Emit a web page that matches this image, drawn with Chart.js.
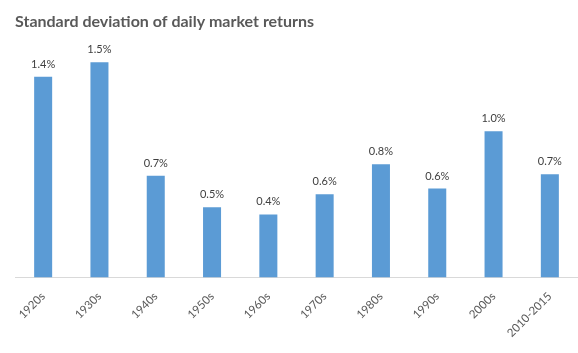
<!DOCTYPE html>
<html>
<head>
<meta charset="utf-8">
<script src="https://cdn.jsdelivr.net/npm/chart.js@4/dist/chart.umd.min.js"></script>
<style>
  html, body { margin: 0; padding: 0; background: #ffffff; }
  #wrap { width: 578px; height: 353px; }
</style>
</head>
<body>
<div id="wrap"><canvas id="c" width="578" height="353"></canvas></div>
<script>
const categories = ["1920s", "1930s", "1940s", "1950s", "1960s", "1970s", "1980s", "1990s", "2000s", "2010-2015"];
const stdDevValues = [1.40, 1.50, 0.71, 0.49, 0.44, 0.58, 0.79, 0.62, 1.02, 0.72];
const titleText = "Standard deviation of daily market returns";

const barLabels = {
  id: 'barLabels',
  afterDatasetsDraw(chart) {
    const ctx = chart.ctx;
    const meta = chart.getDatasetMeta(0);
    ctx.save();
    ctx.font = '11px Lato';
    ctx.fillStyle = '#404040';
    ctx.textAlign = 'center';
    ctx.textBaseline = 'bottom';
    meta.data.forEach((bar, i) => {
      const v = chart.data.datasets[0].data[i];
      ctx.fillText(v.toFixed(1) + '%', bar.x, bar.y - 7);
    });
    ctx.restore();
  }
};

new Chart(document.getElementById('c'), {
  type: 'bar',
  data: {
    labels: categories,
    datasets: [{
      data: stdDevValues,
      backgroundColor: '#5B9BD5',
      borderWidth: 0,
      categoryPercentage: 1.0,
      barPercentage: 0.32
    }]
  },
  options: {
    responsive: false,
    animation: false,
    layout: { padding: { left: 15, right: 0, top: 12, bottom: 1 } },
    plugins: {
      legend: { display: false },
      tooltip: { enabled: false },
      title: {
        display: true,
        text: titleText,
        align: 'start',
        color: '#595959',
        font: { family: 'Lato', size: 16, weight: 'bold' },
        padding: { top: 0.6, bottom: 16.2 }
      }
    },
    scales: {
      x: {
        grid: { display: false, drawTicks: false },
        border: { display: true, color: '#d9d9d9', width: 1 },
        ticks: {
          color: '#595959',
          font: { family: 'Lato', size: 11.5 },
          minRotation: 45,
          maxRotation: 45,
          padding: 12,
          autoSkip: false
        }
      },
      y: {
        display: false,
        min: 0,
        max: 1.6
      }
    }
  },
  plugins: [barLabels]
});
</script>
</body>
</html>
